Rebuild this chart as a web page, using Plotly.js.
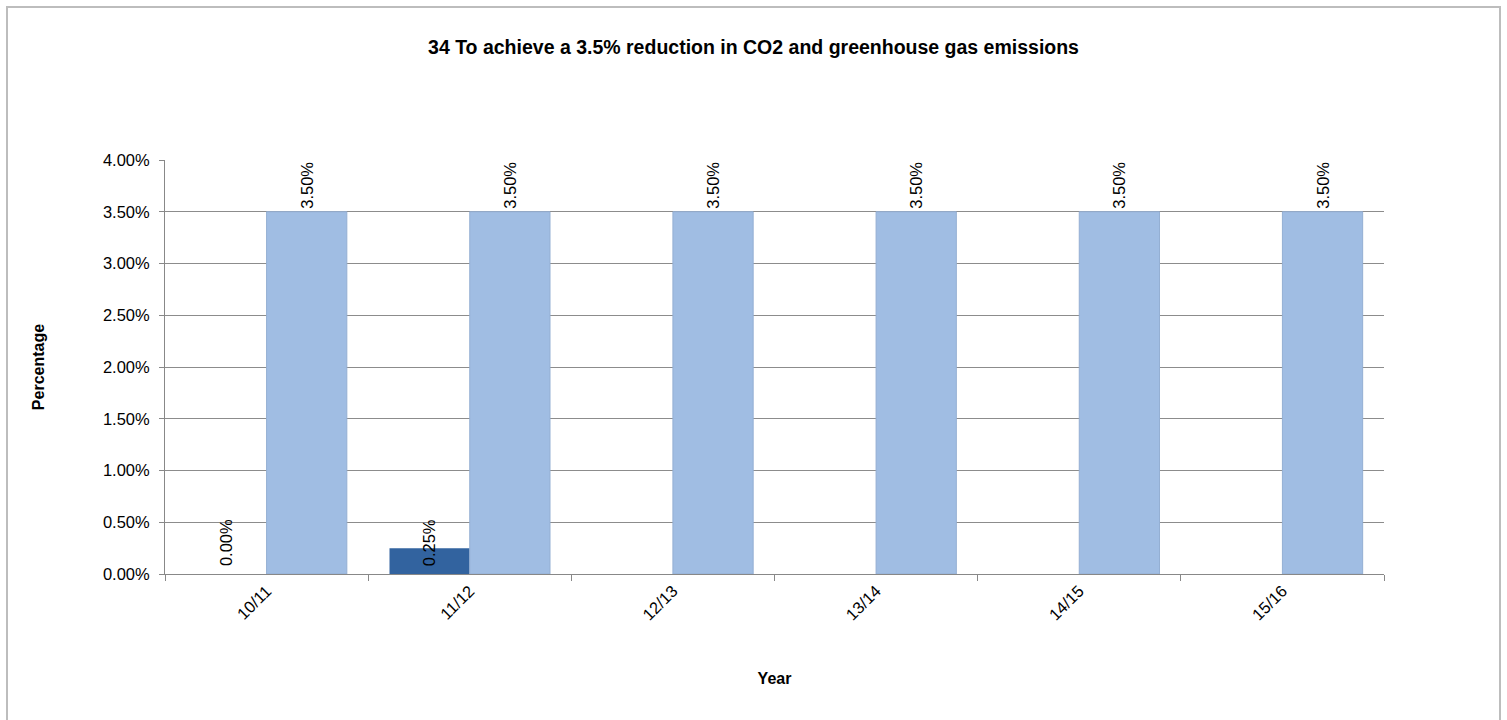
<!DOCTYPE html>
<html>
<head>
<meta charset="utf-8">
<script src="https://cdn.plot.ly/plotly-3.0.1.min.js"></script>
<style>
  html, body { margin: 0; padding: 0; background: #ffffff; }
  #chart { position: absolute; left: 0; top: 0; width: 1507px; height: 720px; }
  #frame { position: absolute; left: 6px; top: 6px; width: 1495px; height: 730px;
           border: 2px solid #bdbdbd; pointer-events: none; box-sizing: border-box; }
</style>
</head>
<body>
<div id="chart"></div>
<div id="frame"></div>
<script>
const years = ['10/11', '11/12', '12/13', '13/14', '14/15', '15/16'];
const actual = [0.0, 0.0025, null, null, null, null];
const target = [0.035, 0.035, 0.035, 0.035, 0.035, 0.035];
const yTicks = [0, 0.005, 0.01, 0.015, 0.02, 0.025, 0.03, 0.035, 0.04];

const fontFam = 'Liberation Sans, Arial, sans-serif';
const tickSize = 16.5;

const traceActual = {
  type: 'bar', name: 'Actual', x: years, y: actual,
  marker: { color: '#32639f', line: { width: 0 } },
  hoverinfo: 'x+y'
};
const traceTarget = {
  type: 'bar', name: 'Target', x: years, y: target,
  marker: { color: '#a0bde3', line: { color: '#94afd3', width: 1 } },
  text: target.map(v => (v * 100).toFixed(2) + '%'),
  textposition: 'outside', textangle: -90,
  textfont: { family: fontFam, size: tickSize, color: '#000000' },
  cliponaxis: false
};

// labels of the actual series, drawn at the category base as in the original
const actualLabels = [];
years.forEach((yr, i) => {
  if (actual[i] !== null) {
    actualLabels.push({
      x: yr, y: 0, xref: 'x', yref: 'y', xshift: -41, yshift: 6,
      text: (actual[i] * 100).toFixed(2) + '%', textangle: -90,
      showarrow: false, yanchor: 'bottom',
      font: { family: fontFam, size: tickSize, color: '#000000' }
    });
  }
});

const layout = {
  width: 1507, height: 720,
  paper_bgcolor: '#ffffff', plot_bgcolor: '#ffffff',
  margin: { l: 165, r: 123, t: 160, b: 146 },
  showlegend: false,
  barmode: 'group', bargap: 0.21, bargroupgap: 0,
  font: { family: fontFam, size: tickSize, color: '#000000' },
  title: {
    text: '<b>34 To achieve a 3.5% reduction in CO2 and greenhouse gas emissions</b>',
    font: { family: fontFam, size: 19.5, color: '#000000' },
    x: 0.5, xref: 'container', y: 1 - 47 / 720, yref: 'container', yanchor: 'middle'
  },
  xaxis: {
    type: 'category',
    title: { text: '<b>Year</b>', font: { family: fontFam, size: 16 }, standoff: 50 },
    tickangle: -45, tickfont: { family: fontFam, size: tickSize },
    showline: true, linecolor: '#888888', linewidth: 1,
    ticks: 'outside', tickson: 'boundaries', ticklen: 6, tickcolor: '#888888',
    showgrid: false, zeroline: false
  },
  yaxis: {
    title: { text: '<b>Percentage</b>', font: { family: fontFam, size: 16 }, standoff: 54 },
    range: [0, 0.04], tickvals: yTicks, tickformat: '.2%',
    tickfont: { family: fontFam, size: tickSize },
    ticklabelstandoff: 6,
    showline: true, linecolor: '#888888', linewidth: 1,
    ticks: 'outside', ticklen: 5, tickcolor: '#888888',
    showgrid: true, gridcolor: '#8c8c8c', gridwidth: 1,
    zeroline: false
  },
  annotations: actualLabels
};

Plotly.newPlot('chart', [traceActual, traceTarget], layout, { displayModeBar: false, staticPlot: true });
</script>
</body>
</html>
